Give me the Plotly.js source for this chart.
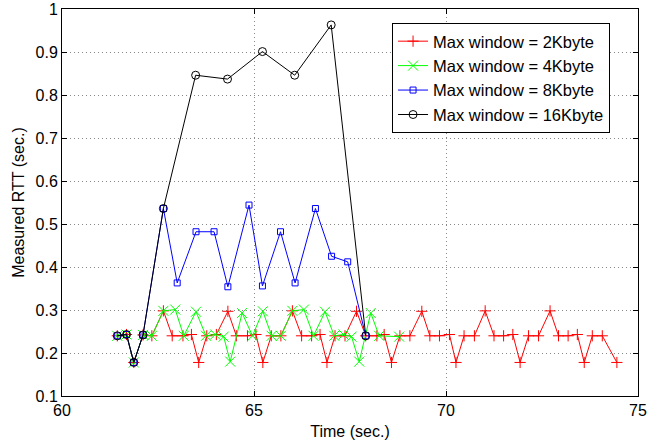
<!DOCTYPE html>
<html>
<head>
<meta charset="utf-8">
<script src="https://cdn.plot.ly/plotly-3.0.1.min.js"></script>
<style>html,body{margin:0;padding:0;background:#fff;}#chart{width:670px;height:444px;}</style>
</head>
<body>
<div id="chart"></div>
<script>
// Max window = 2Kbyte
var time2k = [61.44,61.68,61.87,62.11,62.34,62.64,62.87,63.15,63.37,63.56,63.77,64.02,64.32,64.54,64.83,65.05,65.23,65.45,65.70,66.00,66.24,66.50,66.72,66.90,67.11,67.37,67.67,67.91,68.20,68.39,68.58,68.80,69.06,69.37,69.58,69.83,70.09,70.26,70.47,70.74,71.02,71.25,71.50,71.74,71.93,72.15,72.41,72.71,72.93,73.18,73.42,73.60,73.81,74.07,74.45];
var rtt2k  = [0.240,0.243,0.178,0.242,0.240,0.298,0.240,0.240,0.243,0.178,0.240,0.243,0.297,0.240,0.240,0.243,0.178,0.240,0.240,0.298,0.240,0.240,0.243,0.178,0.240,0.240,0.297,0.240,0.240,0.243,0.178,0.240,0.240,0.297,0.240,0.240,0.243,0.178,0.240,0.240,0.298,0.240,0.240,0.243,0.178,0.240,0.240,0.298,0.240,0.240,0.243,0.178,0.240,0.240,0.178];
// Max window = 4Kbyte
var time4k = [61.44,61.68,61.87,62.11,62.34,62.64,62.95,63.17,63.49,63.75,63.99,64.21,64.38,64.69,64.96,65.23,65.46,65.70,66.00,66.30,66.55,66.85,67.09,67.33,67.54,67.74,68.04,68.26,68.78];
var rtt4k  = [0.240,0.243,0.178,0.242,0.240,0.298,0.301,0.240,0.296,0.240,0.243,0.238,0.180,0.293,0.240,0.297,0.240,0.240,0.298,0.301,0.240,0.296,0.240,0.243,0.238,0.180,0.293,0.240,0.238];
// Max window = 8Kbyte
var time8k = [61.44,61.68,61.87,62.11,62.64,63.00,63.49,63.96,64.32,64.87,65.22,65.69,66.07,66.60,67.02,67.44,67.91];
var rtt8k  = [0.240,0.243,0.178,0.242,0.536,0.363,0.482,0.482,0.354,0.544,0.356,0.482,0.363,0.536,0.425,0.412,0.240];
// Max window = 16Kbyte
var time16k = [61.44,61.68,61.87,62.11,62.64,63.48,64.31,65.22,66.06,67.01,67.91];
var rtt16k  = [0.240,0.243,0.178,0.242,0.536,0.846,0.837,0.901,0.846,0.963,0.240];

var names = ['Max window = 2Kbyte','Max window = 4Kbyte','Max window = 8Kbyte','Max window = 16Kbyte'];
var xTicks = [60,65,70,75];
var yTicks = [0.1,0.2,0.3,0.4,0.5,0.6,0.7,0.8,0.9,1];

var FONT = 'Liberation Sans, Arial, Helvetica, sans-serif';

var traces = [
  {x: time2k, y: rtt2k, name: names[0], mode: 'lines+markers', line: {color: '#ff0000', width: 1}, marker: {symbol: 'cross-thin-open', size: 8, color: '#ff0000', line: {color: '#ff0000', width: 1}}},
  {x: time4k, y: rtt4k, name: names[1], mode: 'lines+markers', line: {color: '#00ff00', width: 1}, marker: {symbol: 'x-thin-open', size: 10, color: '#00ff00', line: {color: '#00ff00', width: 1}}},
  {x: time8k, y: rtt8k, name: names[2], mode: 'lines+markers', line: {color: '#0000ff', width: 1}, marker: {symbol: 'square-open', size: 6, color: '#0000ff', line: {color: '#0000ff', width: 1}}},
  {x: time16k, y: rtt16k, name: names[3], mode: 'lines+markers', line: {color: '#000000', width: 1}, marker: {symbol: 'circle-open', size: 8, color: '#000000', line: {color: '#000000', width: 1}}}
];

var layout = {
  width: 670, height: 444,
  margin: {l: 62, r: 32, t: 9, b: 48, pad: 0},
  paper_bgcolor: '#ffffff', plot_bgcolor: '#ffffff',
  font: {family: FONT, size: 16, color: '#000'},
  showlegend: true,
  legend: {
    x: 0.573, y: 0.964, xanchor: 'left', yanchor: 'top',
    bgcolor: '#ffffff', bordercolor: '#000000', borderwidth: 1,
    font: {family: FONT, size: 16.5, color: '#000'},
    tracegroupgap: 0, itemwidth: 30
  },
  xaxis: {
    range: [60, 75], tickvals: xTicks, ticktext: xTicks.map(String),
    ticks: 'inside', ticklen: 5, tickcolor: '#000', tickwidth: 1,
    showline: true, linecolor: '#000', linewidth: 1, mirror: 'ticks',
    showgrid: true, gridcolor: '#888', griddash: '1px,3px', gridwidth: 1,
    zeroline: false,
    tickfont: {family: FONT, size: 16, color: '#000'},
    title: {text: 'Time (sec.)', font: {family: FONT, size: 16, color: '#000'}, standoff: 7}
  },
  yaxis: {
    range: [0.1, 1], tickvals: yTicks, ticktext: yTicks.map(String),
    ticks: 'inside', ticklen: 5, tickcolor: '#000', tickwidth: 1,
    showline: true, linecolor: '#000', linewidth: 1, mirror: 'ticks',
    showgrid: true, gridcolor: '#888', griddash: '1px,3px', gridwidth: 1,
    zeroline: false,
    tickfont: {family: FONT, size: 16, color: '#000'},
    title: {text: 'Measured RTT (sec.)', font: {family: FONT, size: 16, color: '#000'}, standoff: 6}
  }
};

Plotly.newPlot('chart', traces, layout, {displayModeBar: false, staticPlot: true});
</script>
</body>
</html>
